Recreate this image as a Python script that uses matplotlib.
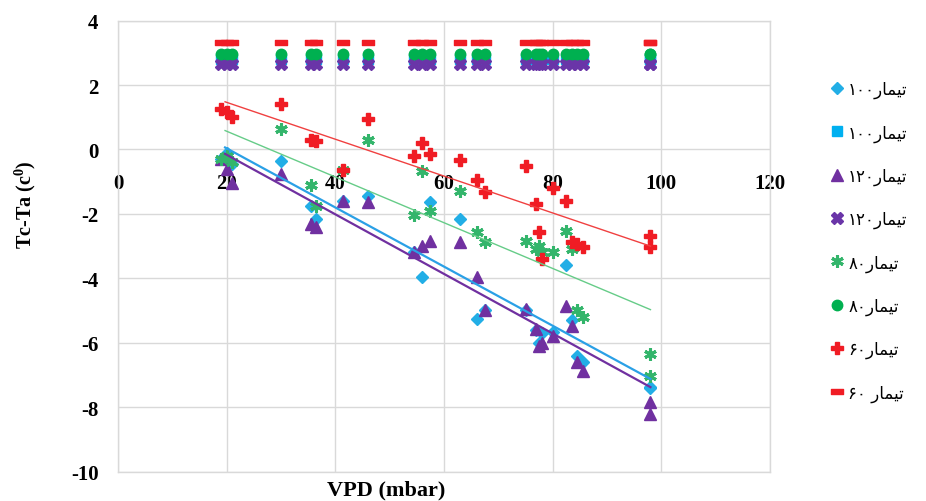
import numpy as np
import matplotlib
matplotlib.use("Agg")
import matplotlib.pyplot as plt
from matplotlib.path import Path

# ---------------- data ----------------
vpd = [19, 20, 21, 30, 35.5, 36.5, 41.5, 46, 54.5, 56, 57.5, 63, 66, 67.5,
       75, 77, 77.5, 78, 80, 82.5, 83.5, 84.5, 85.5, 98, 98]

t100_a = [-0.3, -0.1, -0.45, -0.36, -1.75, -2.16, -1.6, -1.44, -3.2, -3.97, -1.63, -2.16, -5.26, -5.0,
          -5.0, -5.6, -6.0, -5.7, -5.67, -3.6, -5.3, -6.4, -6.6, -7.38, -7.4]
t120_a = [-0.3, -0.6, -1.05, -0.77, -2.3, -2.4, -1.59, -1.64, -3.19, -2.99, -2.83, -2.88, -3.97, -5.0,
          -4.95, -5.57, -6.09, -6.0, -5.78, -4.85, -5.47, -6.6, -6.87, -7.84, -8.2]
t80_a = [-0.3, -0.2, -0.4, 0.64, -1.1, -1.75, -0.65, 0.3, -2.05, -0.66, -1.9, -1.28, -2.57, -2.86,
         -2.83, -3.09, -3.0, -3.2, -3.19, -2.52, -3.09, -5.0, -5.2, -6.35, -7.02]
t60_a = [1.25, 1.15, 1.0, 1.41, 0.3, 0.25, -0.65, 0.95, -0.2, 0.2, -0.15, -0.33, -0.94, -1.33,
         -0.5, -1.69, -2.57, -3.4, -1.2, -1.59, -2.88, -2.93, -3.04, -2.68, -3.04]

t100_b = [2.8, 2.8, 2.8, 2.8, 2.8, 2.8, 2.8, 2.8, 2.8, 2.8, 2.8, 2.8, 2.8, 2.8,
          2.8, 2.8, 2.8, 2.8, 2.8, 2.8, 2.8, 2.8, 2.8, 2.8, 2.8]
t120_b = [2.65, 2.65, 2.65, 2.65, 2.65, 2.65, 2.65, 2.65, 2.65, 2.65, 2.65, 2.65, 2.65, 2.65,
          2.65, 2.65, 2.65, 2.65, 2.65, 2.65, 2.65, 2.65, 2.65, 2.65, 2.65]
t80_b = [2.95, 2.95, 2.95, 2.95, 2.95, 2.95, 2.95, 2.95, 2.95, 2.95, 2.95, 2.95, 2.95, 2.95,
         2.95, 2.95, 2.95, 2.95, 2.95, 2.95, 2.95, 2.95, 2.95, 2.95, 2.95]
t60_b = [3.33, 3.33, 3.33, 3.33, 3.33, 3.33, 3.33, 3.33, 3.33, 3.33, 3.33, 3.33, 3.33, 3.33,
         3.33, 3.33, 3.33, 3.33, 3.33, 3.33, 3.33, 3.33, 3.33, 3.33, 3.33]

# Persian labels (visual order, presentation forms)
word = "\uFEAD\uFE8E\uFEE4\uFEF4\uFE97"   # تیمار
labels = ["\u06F1\u06F0\u06F0" + word, "\u06F1\u06F0\u06F0" + word,
          "\u06F1\u06F2\u06F0" + word, "\u06F1\u06F2\u06F0" + word,
          "\u06F8\u06F0" + word, "\u06F8\u06F0" + word,
          "\u06F6\u06F0" + word, "\u06F6\u06F0 " + word]

x_ticks = [0, 20, 40, 60, 80, 100, 120]
y_ticks = [-10, -8, -6, -4, -2, 0, 2, 4]

# ---------------- styles ----------------
dash_marker = Path([(-1, -0.45), (1, -0.45), (1, 0.45), (-1, 0.45), (-1, -0.45)],
                   [Path.MOVETO, Path.LINETO, Path.LINETO, Path.LINETO, Path.CLOSEPOLY])
series = [
    (t100_a, dict(marker="D", ms=6.5, color="#22aee6", mec="#22aee6")),
    (t100_b, dict(marker="s", ms=7.5, color="#00b0f0", mec="#00b0f0")),
    (t120_a, dict(marker="^", ms=8, color="#7030a0", mec="#7030a0")),
    (t120_b, dict(marker="X", ms=8, color="#6a35a8", mec="#6a35a8")),
    (t80_a, dict(marker=(6, 2, 0), ms=9, color="#33b56b", mec="#33b56b", mew=2.2)),
    (t80_b, dict(marker="o", ms=7.5, color="#00b050", mec="#00b050")),
    (t60_a, dict(marker="P", ms=8.5, color="#f01c24", mec="#f01c24")),
    (t60_b, dict(marker=dash_marker, ms=8, color="#f01c24", mec="#f01c24")),
]
trend = {0: ("#2aa0e6", 1.6), 2: ("#7030a0", 1.6), 4: ("#66cc88", 1.0), 6: ("#f04040", 1.0)}

plt.rcParams["mathtext.fontset"] = "custom"
plt.rcParams["mathtext.rm"] = "Liberation Serif:bold"
plt.rcParams["mathtext.it"] = "Liberation Serif:bold"

fig = plt.figure(figsize=(9.26, 5.02), dpi=100)
fig.patch.set_facecolor("white")
ax = fig.add_axes([118 / 926, 1 - 472.5 / 502, (770 - 118) / 926, (472.5 - 21.6) / 502])

handles = []
for i, (vals, st) in enumerate(series):
    h, = ax.plot(vpd, vals, linestyle="none", zorder=3 + i, clip_on=False, **st)
    handles.append(h)

for i, (col, lw) in trend.items():
    xs = np.array(vpd, dtype=float)
    ys = np.array(series[i][0], dtype=float)
    k, b = np.polyfit(xs, ys, 1)
    xx = np.array([xs.min() + 0.7, xs.max()])
    ax.plot(xx, k * xx + b, color=col, lw=lw, zorder=12)

ax.set_xlim(0, 120)
ax.set_ylim(-10, 4)
ax.set_xticks(x_ticks)
ax.set_yticks(y_ticks)
ax.grid(True, color="#d9d9d9", lw=1.0)
ax.set_axisbelow(True)
for s in ax.spines.values():
    s.set_color("#d9d9d9")
    s.set_linewidth(1.0)

tick_font = dict(family="Liberation Serif", weight="bold", size=15)
ax.tick_params(axis="both", length=0)
ax.set_xticklabels([])
ax.set_yticklabels([str(v) for v in y_ticks], **tick_font)
ax.tick_params(axis="y", pad=14)

# x tick labels sit along the y = 0 line
sec = ax.secondary_xaxis(10 / 14)
sec.set_alignment("bottom")
sec.set_xticks(x_ticks)
sec.set_xticklabels([str(v) for v in x_ticks], **tick_font)
sec.tick_params(length=0, pad=17)
for s in sec.spines.values():
    s.set_visible(False)

fig.text(25 / 926, 1 - 205 / 502, "Tc-Ta (c$^{0}$)", rotation=90, ha="center", va="center",
         family="Liberation Serif", weight="bold", size=14.5)
fig.text(386 / 926, 1 - 490 / 502, "VPD (mbar)", ha="center", va="center",
         family="Liberation Serif", weight="bold", size=16)

leg = fig.legend(handles, labels, loc="upper left", bbox_to_anchor=(829 / 926, 1 - 81 / 502),
                 frameon=False, prop=dict(family="DejaVu Sans", size=12),
                 handlelength=1.0, handletextpad=0.15, labelspacing=1.50, borderpad=0,
                 borderaxespad=0)

fig.savefig("out.png", dpi=100, facecolor="white")
